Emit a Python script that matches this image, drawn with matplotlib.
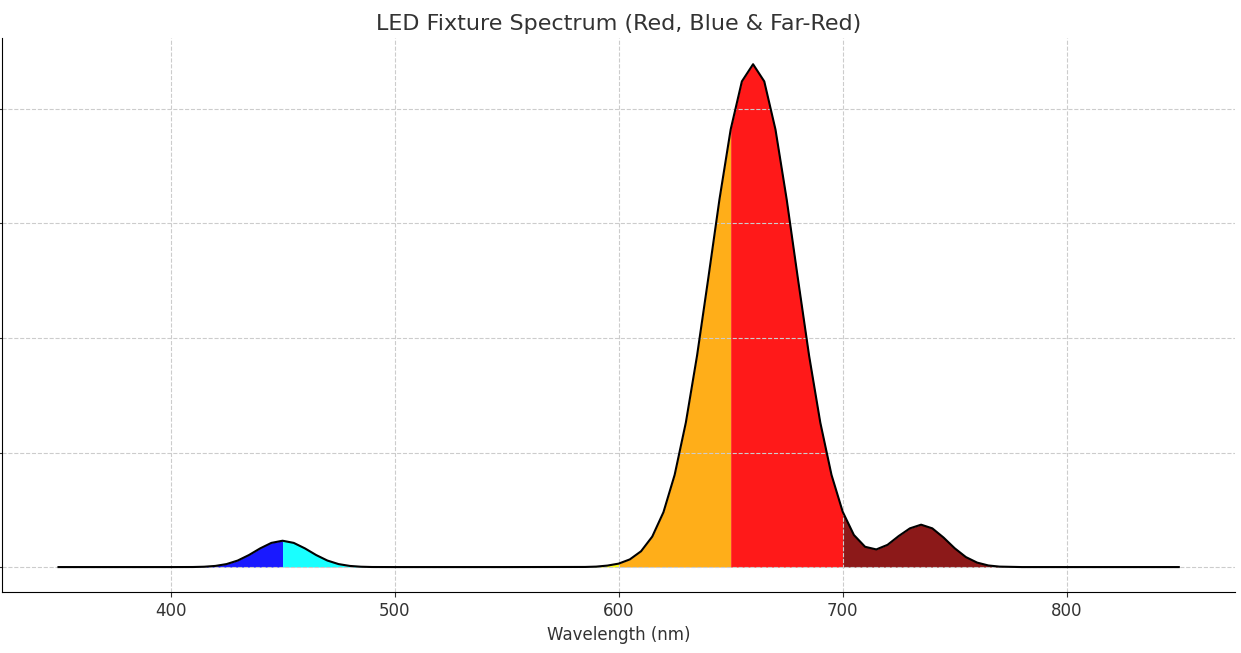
import numpy as np
import matplotlib
matplotlib.use("Agg")
import matplotlib.pyplot as plt

wavelength = [350, 400, 410, 415, 420, 425, 430, 435, 440, 445, 450, 455, 460, 465, 470, 475, 480, 485, 490, 500,
              550, 585, 590, 595, 600, 605, 610, 615, 620, 625, 630, 635, 640, 645, 650, 655, 660, 665, 670, 675,
              680, 685, 690, 695, 700, 705, 710, 715, 720, 725, 730, 735, 740, 745, 750, 755, 760, 765, 770, 780, 850]
intensity = [0, 0, 0.0005, 0.003, 0.01, 0.026, 0.057, 0.105, 0.163, 0.211, 0.23, 0.211, 0.163, 0.105, 0.057, 0.026, 0.01, 0.003, 0.0005, 0,
             0, 0.001, 0.004, 0.013, 0.030, 0.067, 0.138, 0.266, 0.479, 0.805, 1.262, 1.846, 2.52, 3.21, 3.82, 4.24, 4.39, 4.24, 3.82, 3.21,
             2.52, 1.846, 1.262, 0.805, 0.483, 0.28, 0.177, 0.154, 0.194, 0.271, 0.338, 0.37, 0.338, 0.258, 0.164, 0.087, 0.039, 0.014, 0.004, 0, 0]
band_edges = [350, 450, 500, 590, 600, 650, 700, 850]
band_colors = ["blue", "cyan", "green", "yellow", "orange", "red", "maroon"]

fig = plt.figure(figsize=(12.41, 6.53), dpi=100)
ax = fig.add_axes([0.002, 0.093, 0.993, 0.849])
xf = np.linspace(350, 850, 2001)
yf = np.interp(xf, wavelength, intensity)
for i, c in enumerate(band_colors):
    m = (xf >= band_edges[i]) & (xf <= band_edges[i + 1])
    ax.fill_between(xf[m], 0, yf[m], color=c, alpha=0.9, linewidth=0)
ax.plot(wavelength, intensity, color="black", lw=1.5)
ax.set_xlim(325, 875)
ax.set_ylim(-0.22, 4.62)
ax.set_xticks([400, 500, 600, 700, 800])
ax.set_yticks([0, 1, 2, 3, 4])
ax.set_yticklabels([])
ax.tick_params(labelsize=12, colors="#333333")
ax.grid(True, ls="--", color="#cccccc", lw=0.8)
for s in ["top", "right"]:
    ax.spines[s].set_visible(False)
ax.set_xlabel("Wavelength (nm)", fontsize=12, color="#333333")
ax.set_title("LED Fixture Spectrum (Red, Blue & Far-Red)", fontsize=16, color="#333333")
fig.savefig("out.png")
